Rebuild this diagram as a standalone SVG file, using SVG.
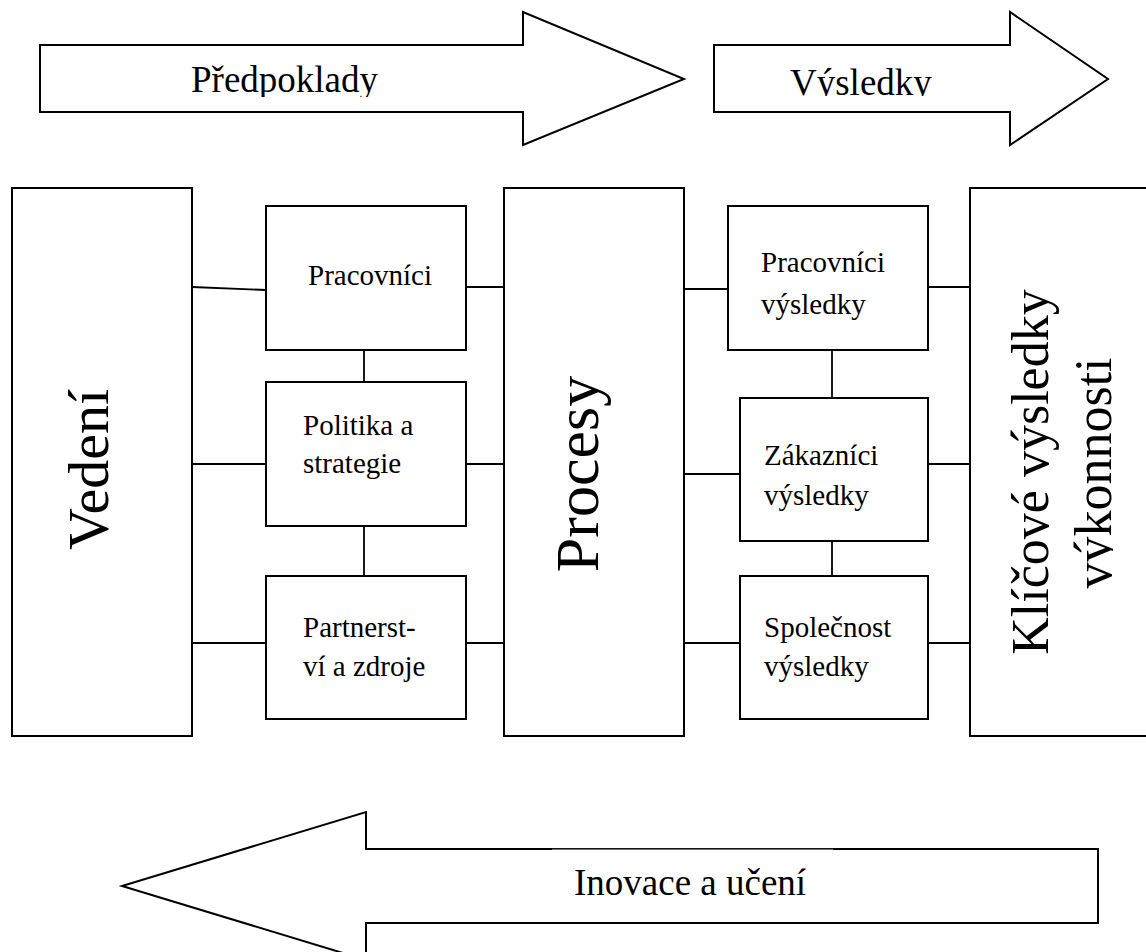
<svg xmlns="http://www.w3.org/2000/svg" width="1146" height="952" viewBox="0 0 1146 952">
  <style>
    .box { fill: #fff; stroke: #000; stroke-width: 2; }
    .arrow { fill: #fff; stroke: #000; stroke-width: 2; stroke-linejoin: miter; }
    .link { stroke: #000; stroke-width: 1.8; fill: none; }
    text { font-family: "Liberation Serif", "DejaVu Serif Condensed", "DejaVu Serif", serif; fill: #000; }
    .big { font-size: 37px; }
    .node { font-size: 29px; }
  </style>
  <defs>
    <clipPath id="clipTop1"><rect x="150" y="40" width="300" height="57"/></clipPath>
    <clipPath id="clipTop2"><rect x="740" y="40" width="260" height="56"/></clipPath>
    <clipPath id="clipKlic2"><rect x="1000" y="180" width="113" height="560"/></clipPath>
  </defs>

  <!-- flow arrows -->
  <g id="arrow-predpoklady">
    <polygon class="arrow" points="40,45 523,45 523,12 684,79 523,145 523,112 40,112"/>
    <text class="big" x="191" y="92" clip-path="url(#clipTop1)">Předpoklady</text>
  </g>
  <g id="arrow-vysledky">
    <polygon class="arrow" points="714,45 1010,45 1010,12 1108,79 1010,145 1010,112 714,112"/>
    <text class="big" x="790" y="95" clip-path="url(#clipTop2)">Výsledky</text>
  </g>
  <g id="arrow-inovace">
    <polygon class="arrow" points="1098,849 366,849 366,812 122,886 366,960 366,923 1098,923"/>
    <rect x="552" y="849.6" width="281" height="40" fill="#fff"/>
    <line x1="552" y1="849.3" x2="833" y2="849.3" stroke="#777" stroke-width="0.8"/>
    <text class="big" x="574" y="895">Inovace a učení</text>
  </g>

  <!-- connectors -->
  <g id="connectors">
    <line class="link" x1="192" y1="287" x2="266" y2="290"/>
    <line class="link" x1="192" y1="464" x2="266" y2="464"/>
    <line class="link" x1="192" y1="643" x2="266" y2="643"/>
    <line class="link" x1="466" y1="287" x2="504" y2="287"/>
    <line class="link" x1="466" y1="464" x2="504" y2="464"/>
    <line class="link" x1="466" y1="643" x2="504" y2="643"/>
    <line class="link" x1="364" y1="350" x2="364" y2="382"/>
    <line class="link" x1="364" y1="526" x2="364" y2="576"/>
    <line class="link" x1="684" y1="289" x2="728" y2="289"/>
    <line class="link" x1="684" y1="474" x2="740" y2="474"/>
    <line class="link" x1="684" y1="643" x2="740" y2="643"/>
    <line class="link" x1="928" y1="287" x2="970" y2="287"/>
    <line class="link" x1="928" y1="464" x2="970" y2="464"/>
    <line class="link" x1="928" y1="643" x2="970" y2="643"/>
    <line class="link" x1="832" y1="350" x2="832" y2="398"/>
    <line class="link" x1="832" y1="541" x2="832" y2="576"/>
  </g>

  <!-- tall columns -->
  <g id="vedeni">
    <rect class="box" x="12" y="188" width="180" height="548"/>
    <text font-size="58" transform="translate(108,550) rotate(-90)">Vedení</text>
  </g>
  <g id="procesy">
    <rect class="box" x="504" y="188" width="180" height="548"/>
    <text font-size="62" text-anchor="middle" transform="translate(598,474) rotate(-90)">Procesy</text>
  </g>
  <g id="klicove-vysledky">
    <rect class="box" x="970" y="188" width="200" height="548"/>
    <text font-size="52" text-anchor="middle" transform="translate(1048,472) rotate(-90)">Klíčové výsledky</text>
    <g clip-path="url(#clipKlic2)">
      <text font-size="52" text-anchor="middle" transform="translate(1111,473) rotate(-90)">výkonnosti</text>
    </g>
  </g>

  <!-- enabler boxes -->
  <g id="pracovnici">
    <rect class="box" x="266" y="206" width="200" height="144"/>
    <text class="node" x="308" y="285">Pracovníci</text>
  </g>
  <g id="politika">
    <rect class="box" x="266" y="382" width="200" height="144"/>
    <text class="node" x="303" y="435">Politika a</text>
    <text class="node" x="303" y="473">strategie</text>
  </g>
  <g id="partnerstvi">
    <rect class="box" x="266" y="576" width="200" height="143"/>
    <text class="node" x="303" y="637">Partnerst-</text>
    <text class="node" x="303" y="676">ví a zdroje</text>
  </g>

  <!-- result boxes -->
  <g id="pracovnici-vysledky">
    <rect class="box" x="728" y="206" width="200" height="144"/>
    <text class="node" x="761" y="272">Pracovníci</text>
    <text class="node" x="761" y="314">výsledky</text>
  </g>
  <g id="zakaznici-vysledky">
    <rect class="box" x="740" y="398" width="188" height="143"/>
    <text class="node" x="764" y="465">Zákazníci</text>
    <text class="node" x="764" y="505">výsledky</text>
  </g>
  <g id="spolecnost-vysledky">
    <rect class="box" x="740" y="576" width="188" height="143"/>
    <text class="node" x="764" y="637">Společnost</text>
    <text class="node" x="764" y="676">výsledky</text>
  </g>
</svg>
